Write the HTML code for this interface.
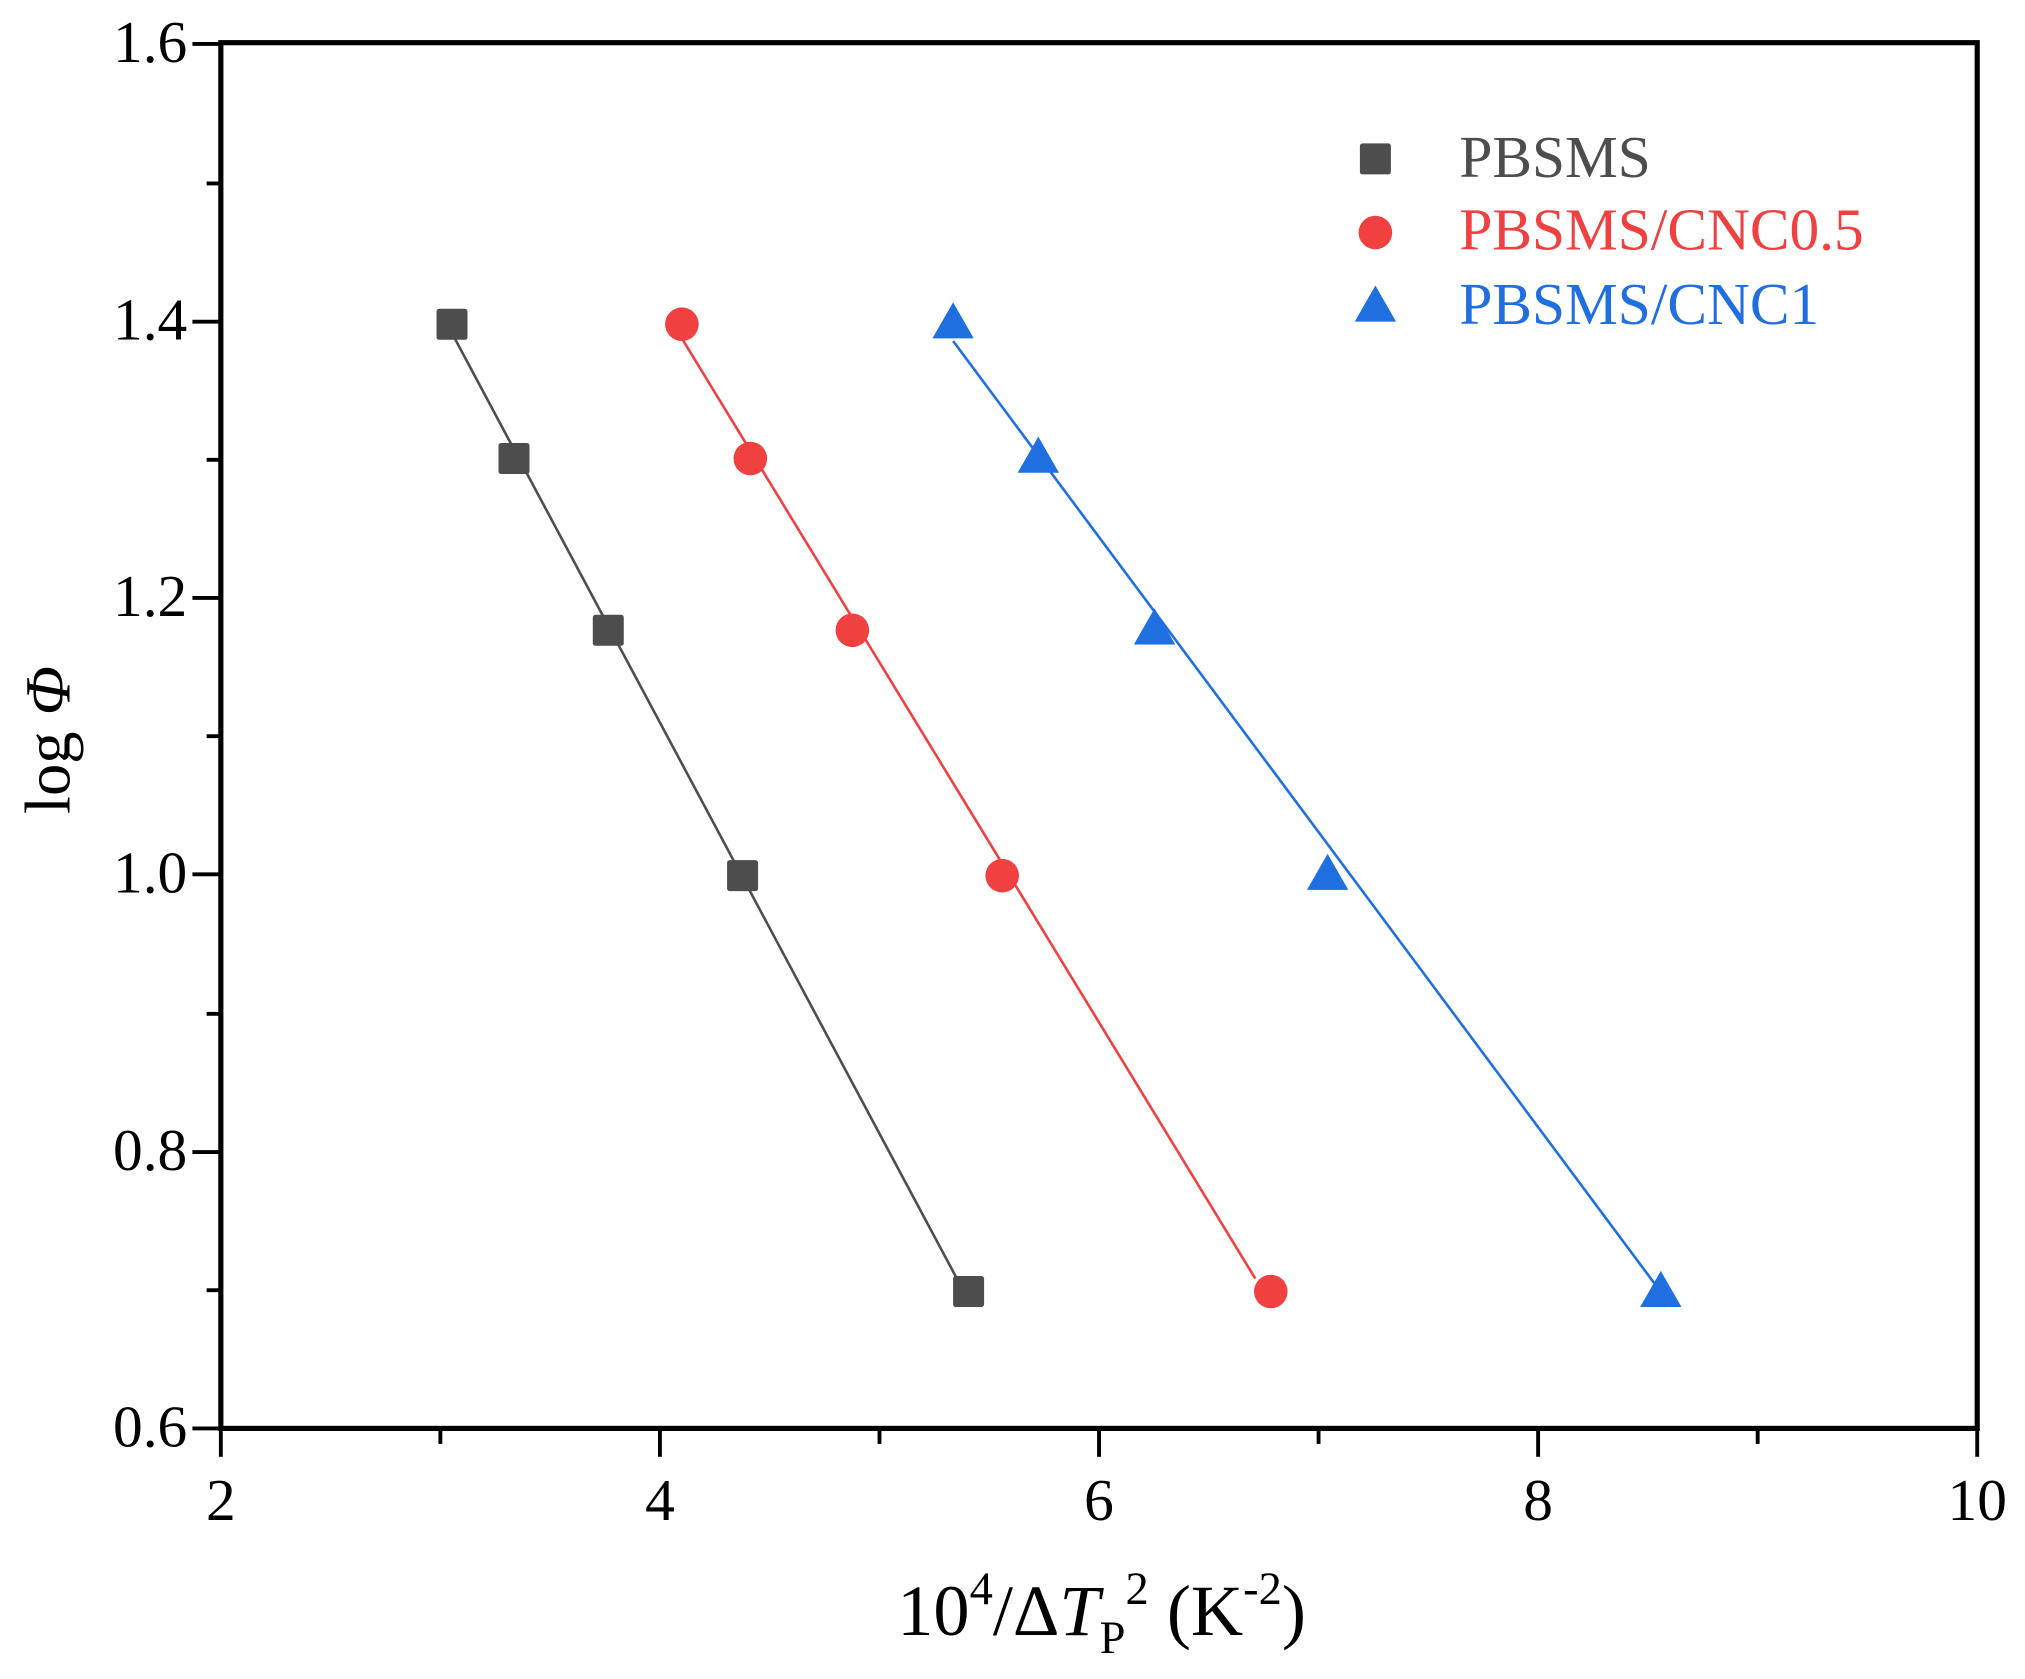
<!DOCTYPE html>
<html><head><meta charset="utf-8"><style>
html,body{margin:0;padding:0;background:#fff;}
svg{display:block;}
text{font-family:"Liberation Serif","DejaVu Serif",serif;}
</style></head><body>
<svg width="2025" height="1679" viewBox="0 0 1568 1300" xmlns="http://www.w3.org/2000/svg">
<rect width="1568" height="1300" fill="#fff"/>
<rect x="171" y="33" width="1360" height="1073" fill="none" stroke="#000" stroke-width="4"/>
<g stroke="#000" stroke-width="3">
<line x1="171" y1="1106" x2="171" y2="1128"/><line x1="511" y1="1106" x2="511" y2="1128"/>
<line x1="851" y1="1106" x2="851" y2="1128"/><line x1="1191" y1="1106" x2="1191" y2="1128"/>
<line x1="1531" y1="1106" x2="1531" y2="1128"/>
<line x1="341" y1="1106" x2="341" y2="1118"/><line x1="681" y1="1106" x2="681" y2="1118"/>
<line x1="1021" y1="1106" x2="1021" y2="1118"/><line x1="1361" y1="1106" x2="1361" y2="1118"/>
<line x1="149" y1="1106" x2="171" y2="1106"/><line x1="149" y1="892" x2="171" y2="892"/>
<line x1="149" y1="677" x2="171" y2="677"/><line x1="149" y1="463" x2="171" y2="463"/>
<line x1="149" y1="249" x2="171" y2="249"/><line x1="149" y1="34" x2="171" y2="34"/>
<line x1="160" y1="999" x2="171" y2="999"/><line x1="160" y1="785" x2="171" y2="785"/>
<line x1="160" y1="570" x2="171" y2="570"/><line x1="160" y1="356" x2="171" y2="356"/>
<line x1="160" y1="142" x2="171" y2="142"/>
</g>
<g font-size="46" fill="#000" text-anchor="end">
<text x="145" y="1120">0.6</text><text x="145" y="906">0.8</text>
<text x="145" y="691">1.0</text><text x="145" y="477">1.2</text>
<text x="145" y="263">1.4</text><text x="145" y="48">1.6</text>
</g>
<g font-size="46" fill="#000" text-anchor="middle">
<text x="171" y="1177">2</text><text x="511" y="1177">4</text><text x="851" y="1177">6</text>
<text x="1191" y="1177">8</text><text x="1531" y="1177">10</text>
</g>
<text x="853" y="1266" font-size="56" text-anchor="middle">10<tspan font-size="36" dy="-24">4</tspan><tspan dy="24">/Δ</tspan><tspan font-style="italic">T</tspan><tspan font-size="36" dy="14">P</tspan><tspan font-size="36" dy="-38">2</tspan><tspan dy="24"> (K</tspan><tspan font-size="36" dy="-24">-2</tspan><tspan dy="24">)</tspan></text>
<text transform="translate(54,573) rotate(-90)" font-size="50" text-anchor="middle">log <tspan font-style="italic">Φ</tspan></text>
<line x1="350" y1="258" x2="742" y2="992" stroke="#4d4d4d" stroke-width="2"/>
<line x1="528" y1="262" x2="972" y2="990" stroke="#f04040" stroke-width="2"/>
<line x1="738" y1="264" x2="1282" y2="995" stroke="#1f6fe0" stroke-width="2"/>
<g fill="#4d4d4d">
<rect x="338" y="239" width="24" height="24" rx="2"/><rect x="386" y="343" width="24" height="24" rx="2"/>
<rect x="459" y="476" width="24" height="24" rx="2"/><rect x="563" y="666" width="24" height="24" rx="2"/>
<rect x="738" y="988" width="24" height="24" rx="2"/>
<rect x="1053" y="111" width="24" height="24" rx="2"/>
</g>
<g fill="#f04040">
<circle cx="528" cy="251" r="13"/><circle cx="581" cy="355" r="13"/><circle cx="660" cy="488" r="13"/>
<circle cx="776" cy="678" r="13"/><circle cx="984" cy="1000" r="13"/><circle cx="1065" cy="180" r="13"/>
</g>
<g fill="#1f6fe0">
<polygon points="738,234 754,262 722,262"/><polygon points="804,338 820,366 788,366"/>
<polygon points="894,471 910,499 878,499"/><polygon points="1028,661 1044,689 1012,689"/>
<polygon points="1286,984 1302,1012 1270,1012"/><polygon points="1065,221 1081,249 1049,249"/>
</g>
<g font-size="46">
<text x="1130" y="137" fill="#4d4d4d">PBSMS</text>
<text x="1130" y="193" fill="#f04040">PBSMS/CNC0.5</text>
<text x="1130" y="251" fill="#1f6fe0">PBSMS/CNC1</text>
</g>
</svg>
</body></html>
